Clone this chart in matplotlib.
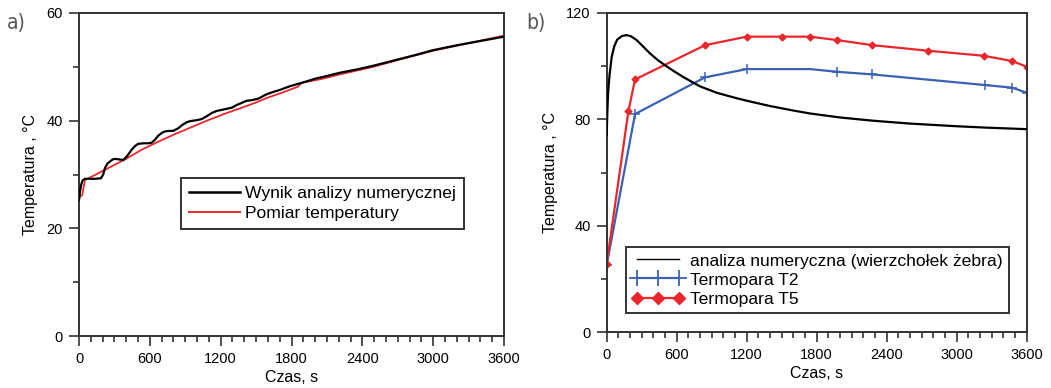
import matplotlib
matplotlib.use("Agg")
import matplotlib.pyplot as plt
from matplotlib.lines import Line2D
from matplotlib.ticker import MultipleLocator
from matplotlib import font_manager

# ---------------- data: panel a ----------------
t_num_a = [0, 10, 17, 30, 51, 90, 135, 186, 205, 220, 240, 262, 285, 305, 340, 376,
           410, 446, 475, 502, 550, 587, 615, 645, 671, 700, 728, 765, 798, 841, 875,
           912, 940, 968, 1000, 1039, 1080, 1123, 1165, 1208, 1250, 1293, 1335, 1378,
           1420, 1462, 1520, 1589, 1640, 1700, 1787, 1850, 1928, 2000, 2100, 2210,
           2350, 2492, 2690, 2850, 3000, 3200, 3400, 3600]
T_num_a = [25.3, 27.0, 28.0, 28.9, 29.2, 29.2, 29.2, 29.3, 30.0, 31.2, 32.0, 32.4,
           32.8, 32.9, 32.8, 32.7, 33.5, 34.6, 35.3, 35.7, 35.8, 35.8, 35.9, 36.5,
           37.2, 37.7, 38.0, 38.1, 38.1, 38.6, 39.2, 39.7, 39.9, 40.0, 40.1, 40.3,
           40.8, 41.4, 41.8, 42.0, 42.2, 42.4, 42.9, 43.3, 43.7, 43.8, 44.1, 44.9,
           45.3, 45.7, 46.4, 46.8, 47.3, 47.8, 48.3, 48.9, 49.5, 50.2, 51.3, 52.2,
           53.1, 54.0, 54.8, 55.6]

t_meas_a = [0, 8, 28, 40, 51, 135, 248, 390, 531, 671, 813, 954, 1095, 1236, 1378,
            1490, 1589, 1720, 1854, 1870, 1883, 2066, 2210, 2492, 2690, 3000, 3300, 3600]
T_meas_a = [25.5, 25.9, 26.2, 27.8, 29.0, 29.9, 31.2, 32.8, 34.6, 36.1, 37.5, 38.8,
            40.1, 41.3, 42.4, 43.3, 44.2, 45.2, 46.3, 46.7, 47.0, 47.8, 48.6, 50.0,
            51.2, 53.0, 54.4, 55.8]

# ---------------- data: panel b ----------------
t_num_b = [0, 5, 12, 25, 43, 65, 90, 130, 171, 210, 257, 310, 371, 440, 514, 580,
           657, 730, 800, 943, 1100, 1200, 1400, 1600, 1743, 2000, 2277, 2600, 3000,
           3243, 3600]
T_num_b = [74.0, 82.0, 90.0, 97.0, 103.5, 107.5, 110.0, 111.3, 111.7, 111.2, 109.8,
           107.5, 104.8, 102.2, 99.9, 98.0, 95.9, 94.1, 92.4, 90.0, 88.1, 87.0, 85.0,
           83.3, 82.2, 80.7, 79.5, 78.4, 77.4, 76.9, 76.3]

t_T2 = [0, 243, 843, 1200, 1743, 1971, 2277, 3243, 3477, 3600]
T_T2 = [25.2, 82.0, 95.8, 98.9, 98.9, 97.9, 96.9, 92.9, 91.9, 90.0]
T2_markers = [0, 1, 2, 3, 5, 6, 7, 8, 9]

t_T5 = [0, 186, 243, 843, 1200, 1500, 1743, 1977, 2277, 2757, 3234, 3477, 3600]
T_T5 = [25.7, 83.1, 95.0, 107.9, 111.1, 111.1, 111.1, 109.8, 107.9, 105.8, 103.9,
        101.9, 99.8]

xticks = [0, 600, 1200, 1800, 2400, 3000, 3600]
yticks_a = [0, 20, 40, 60]
yticks_b = [0, 40, 80, 120]

label_a = "Wynik analizy numerycznej"
label_a2 = "Pomiar temperatury"
label_b1 = "analiza numeryczna (wierzchołek żebra)"
label_b2 = "Termopara T2"
label_b3 = "Termopara T5"

# ---------------- style ----------------
plt.rcParams['font.family'] = ['Liberation Sans', 'DejaVu Sans']
RED = '#e8262b'
BLUE = '#3a62b4'
SPINE = '#333333'

avail = {f.name for f in font_manager.fontManager.ttflist}
if 'Liberation Sans Narrow' in avail:
    panel_font = ['Liberation Sans Narrow', 'DejaVu Sans']
else:
    panel_font = ['DejaVu Sans']

W, H = 1051, 388
fig = plt.figure(figsize=(W / 100, H / 100), dpi=100)


def px_axes(x0, x1, ytop, ybot):
    return fig.add_axes([x0 / W, 1 - ybot / H, (x1 - x0) / W, (ybot - ytop) / H])


def style(ax, yticks, yminor):
    for s in ax.spines.values():
        s.set_color(SPINE)
        s.set_linewidth(1.4)
    ax.set_xlim(0, 3600)
    ax.set_xticks(xticks)
    ax.xaxis.set_minor_locator(MultipleLocator(100))
    ax.set_yticks(yticks)
    ax.yaxis.set_minor_locator(MultipleLocator(yminor))
    ax.tick_params(which='major', direction='out', length=7.5, width=1.2,
                   color=SPINE, labelsize=10.5, pad=4)
    ax.tick_params(which='minor', direction='out', length=4.5, width=1.2, color=SPINE)
    ax.tick_params(top=False, right=False, which='both')
    ax.set_xlabel("Czas, s", fontsize=11.5, labelpad=3)
    ax.set_ylabel("Temperatura , °C", fontsize=11.5, labelpad=6)


# ---------- panel a ----------
axa = px_axes(79, 504, 13, 336)
axa.plot(t_num_a, T_num_a, color='black', lw=1.6, zorder=3)
axa.plot(t_meas_a, T_meas_a, color=RED, lw=1.3, zorder=2)
axa.set_ylim(0, 60)
style(axa, yticks_a, 10)
hl_a = [Line2D([], [], color='black', lw=1.8), Line2D([], [], color=RED, lw=1.4)]
lega = axa.legend(hl_a, [label_a, label_a2], loc='upper left',
                  bbox_to_anchor=(0.24, 0.489), borderaxespad=0, fontsize=12.6,
                  handlelength=2.9, handletextpad=0.3, labelspacing=0.25,
                  borderpad=0.45, fancybox=False, framealpha=1, edgecolor=SPINE)
lega.get_frame().set_linewidth(1.4)

# ---------- panel b ----------
axb = px_axes(606.7, 1026.7, 13, 332)
axb.plot(t_num_b, T_num_b, color='black', lw=1.6, zorder=3)
axb.plot(t_T2, T_T2, color=BLUE, lw=1.6, marker='+', ms=7, mew=1.1,
         markevery=T2_markers, zorder=2)
axb.plot(t_T5, T_T5, color=RED, lw=1.6, marker='D', ms=3.5, zorder=2)
axb.set_ylim(0, 120)
style(axb, yticks_b, 20)
hl_b = [Line2D([], [], color='black', lw=1.0),
        Line2D([], [], color=BLUE, lw=1.6, marker='+', ms=11, mew=1.3),
        Line2D([], [], color=RED, lw=1.6, marker='D', ms=6)]
legb = axb.legend(hl_b, [label_b1, label_b2, label_b3], loc='upper left',
                  bbox_to_anchor=(0.046, 0.266), borderaxespad=0, fontsize=12.6,
                  handlelength=3.0, handletextpad=0.3, labelspacing=0.22,
                  borderpad=0.35, numpoints=3, fancybox=False, framealpha=1,
                  edgecolor=SPINE)
legb.get_frame().set_linewidth(1.4)

fig.text(7 / W, 1 - 23 / H, "a)", fontsize=15, color='#555555', family=panel_font,
         stretch='condensed', weight='light', va='center', ha='left')
fig.text(526 / W, 1 - 23 / H, "b)", fontsize=15, color='#555555', family=panel_font,
         stretch='condensed', weight='light', va='center', ha='left')

fig.savefig("out.png", dpi=100)
